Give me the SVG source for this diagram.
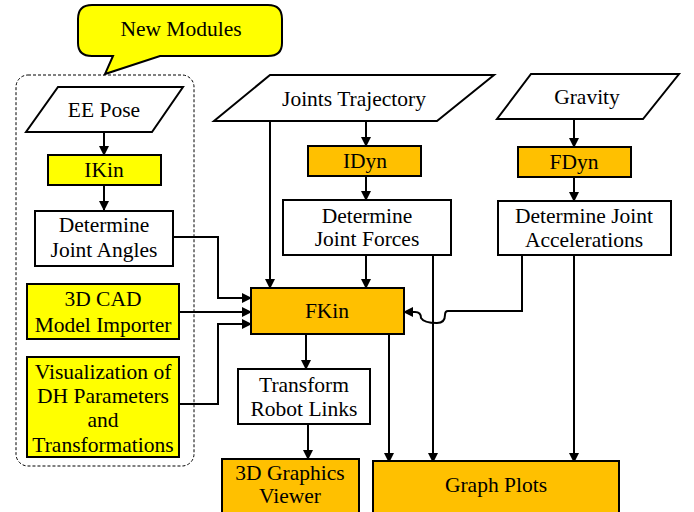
<svg xmlns="http://www.w3.org/2000/svg" width="694" height="512" viewBox="0 0 694 512">
<defs>
<marker id="ah" markerWidth="10" markerHeight="10" refX="9" refY="5" orient="auto" markerUnits="userSpaceOnUse"><path d="M0,0 L10,5 L0,10 Z" fill="#000"/></marker>
<style>
.b{stroke:#000;stroke-width:2;}
.w{fill:#fff;}
.y{fill:#ffff00;}
.o{fill:#ffc000;}
text{font-family:'Liberation Serif','DejaVu Serif',serif;font-size:21.5px;fill:#000;text-anchor:middle;}
.ca{fill:none;stroke:#000;stroke-width:2;marker-end:url(#ah);}
</style>
</defs>
<rect width="694" height="512" fill="#fff"/>
<g id="container"><rect x="16" y="75" width="178" height="391" rx="12" fill="none" stroke="#000" stroke-width="1" stroke-dasharray="3,2"/></g>
<g id="callout"><path class="b" fill="#ffff00" d="M92,5 H268 Q282,5 282,19 V43 Q282,56 268,56 H160 L105,74 L113,56 H92 Q78,56 78,43 V19 Q78,5 92,5 Z"/><text x="181" y="36">New Modules</text></g>

<g id="connectors">
<path class="ca" d="M104,132 V155"/>
<path class="ca" d="M104,185 V210"/>
<path class="ca" d="M173,237 H218 V298 H251"/>
<path class="ca" d="M179,312 H251"/>
<path class="ca" d="M179,404 H218 V324 H251"/>
<path class="ca" d="M270,121 V288"/>
<path class="ca" d="M366,121 V146"/>
<path class="ca" d="M366,176 V200"/>
<path class="ca" d="M366,255 V288"/>
<path class="ca" d="M433,255 V462"/>
<path class="ca" d="M389,334 V462"/>
<path class="ca" d="M306,334 V369"/>
<path class="ca" d="M308,424 V459"/>
<path class="ca" d="M574,119 V147"/>
<path class="ca" d="M574,177 V201"/>
<path class="ca" d="M574,255 V462"/>
<path class="ca" d="M522,255 V311 H448 Q445,311 445,315 Q445,323 437,323 Q424,323 421,318 Q421,312 415,312 H404"/>
</g>

<g id="ee-pose"><polygon class="b w" points="58,87 183,87 152,132 26,132"/><text x="104" y="117">EE Pose</text></g>
<g id="ikin"><rect class="b y" x="48" y="155" width="113" height="30"/><text x="104" y="177">IKin</text></g>
<g id="joint-angles"><rect class="b w" x="35" y="211" width="138" height="55"/><text x="104" y="232">Determine</text><text x="104" y="257">Joint Angles</text></g>
<g id="cad"><rect class="b y" x="27" y="284" width="152" height="55"/><text x="103" y="306">3D CAD</text><text x="103" y="332">Model Importer</text></g>
<g id="vis"><rect class="b y" x="27" y="357" width="152" height="100"/><text x="103" y="379">Visualization of</text><text x="103" y="403">DH Parameters</text><text x="103" y="427">and</text><text x="103" y="452">Transformations</text></g>

<g id="joints-trajectory"><polygon class="b w" points="270,75 494,75 437,121 214,121"/><text x="354" y="106">Joints Trajectory</text></g>
<g id="idyn"><rect class="b o" x="308" y="146" width="113" height="30"/><text x="365" y="168">IDyn</text></g>
<g id="joint-forces"><rect class="b w" x="283" y="200" width="168" height="55"/><text x="367" y="223">Determine</text><text x="367" y="246">Joint Forces</text></g>

<g id="gravity"><polygon class="b w" points="531,74 679,74 643,119 497,119"/><text x="587" y="104">Gravity</text></g>
<g id="fdyn"><rect class="b o" x="518" y="147" width="113" height="30"/><text x="574" y="169">FDyn</text></g>
<g id="joint-acc"><rect class="b w" x="498" y="201" width="173" height="54"/><text x="584" y="223">Determine Joint</text><text x="584" y="247">Accelerations</text></g>

<g id="fkin"><rect class="b o" x="251" y="288" width="153" height="46"/><text x="327" y="318">FKin</text></g>
<g id="transform"><rect class="b w" x="238" y="369" width="132" height="55"/><text x="304" y="392">Transform</text><text x="304" y="416">Robot Links</text></g>
<g id="viewer"><rect class="b o" x="222" y="459" width="137" height="60"/><text x="290" y="480">3D Graphics</text><text x="290" y="503">Viewer</text></g>
<g id="graph-plots"><rect class="b o" x="373" y="461" width="246" height="60"/><text x="496" y="492">Graph Plots</text></g>
</svg>
